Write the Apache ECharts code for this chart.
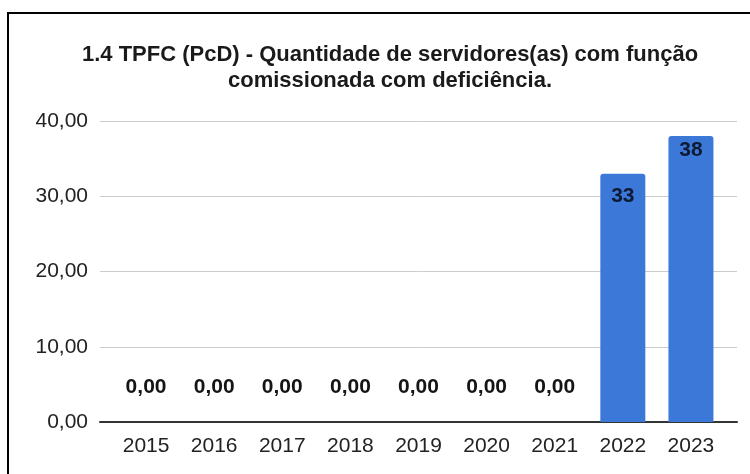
<!DOCTYPE html>
<html><head><meta charset="utf-8">
<script src="https://cdn.jsdelivr.net/npm/echarts@6/dist/echarts.min.js"></script>
<style>html,body{margin:0;padding:0;background:#fff;}#c{width:750px;height:474px;}
#frame{position:absolute;left:7px;top:12px;width:760px;height:480px;border:2px solid #000;pointer-events:none;}</style>
</head><body><div id="c"></div><div id="frame"></div>
<script>
const titleText = '1.4 TPFC (PcD) - Quantidade de servidores(as) com função\ncomissionada com deficiência.';
const categories = ['2015','2016','2017','2018','2019','2020','2021','2022','2023'];
const values = [0,0,0,0,0,0,0,33,38];
const yTicks = [0,10,20,30,40];

const fmt = v => v.toFixed(2).replace('.', ',');
const font = 'Liberation Sans, Arial, sans-serif';
const chart = echarts.init(document.getElementById('c'));
chart.setOption({
  animation:false,
  title:{text:titleText,left:385,top:37,textAlign:'center',
    textStyle:{fontFamily:font,fontSize:22,fontWeight:'bold',color:'#1a1a1a',lineHeight:26}},
  grid:[{left:100,right:13,top:121,bottom:52,containLabel:false},
        {left:112,right:25,top:121,bottom:52,containLabel:false}],
  xAxis:[
    {type:'category',gridIndex:0,data:[''],axisLine:{lineStyle:{color:'#333',width:2}},axisTick:{show:false},axisLabel:{show:false}},
    {type:'category',gridIndex:1,data:categories,axisLine:{show:false},axisTick:{show:false},
     axisLabel:{margin:14,fontFamily:font,fontSize:21,color:'#222'}}
  ],
  yAxis:[
    {type:'value',gridIndex:0,min:yTicks[0],max:yTicks[yTicks.length-1],interval:10,
     axisLabel:{formatter:fmt,fontFamily:font,fontSize:21,color:'#222',margin:12},
     splitLine:{lineStyle:{color:'#cccccc'}},axisLine:{show:false},axisTick:{show:false}},
    {type:'value',gridIndex:1,min:yTicks[0],max:yTicks[yTicks.length-1],interval:10,show:false}
  ],
  series:[{type:'bar',xAxisIndex:1,yAxisIndex:1,barWidth:45,
    itemStyle:{color:'#3c78d8',borderRadius:[3,3,0,0]},
    data:values.map(v=>({value:v,label: v===0
      ? {show:true,position:'top',distance:24,color:'#151515'}
      : {show:true,position:'insideTop',distance: v===38?4:12,color:'#0d1a33'}})),
    label:{formatter:p=>p.value===0?fmt(0):String(p.value),fontFamily:font,fontSize:21,fontWeight:'bold'}
  }]
});
</script></body></html>
